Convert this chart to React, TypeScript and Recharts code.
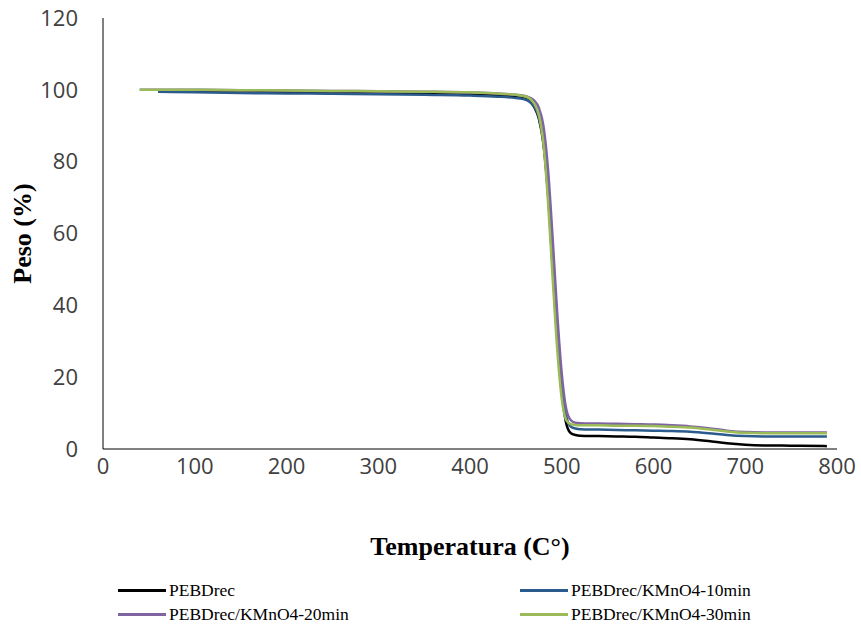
import React from 'react';
import { LineChart, Line, XAxis, YAxis } from 'recharts';

// Temperatura (°C) de cada lectura
const temperaturas = [
    40, 60, 100, 150, 200, 250, 300, 350, 400, 430, 450, 460, 465, 470, 475, 480, 485, 490,
    495, 500, 505, 510, 515, 520, 540, 560, 580, 600, 620, 640, 660, 680, 700, 720, 740, 760, 789,
];

// Peso (%) para cada muestra
const pebdRec = [
    null, 99.8, 99.6, 99.4, 99.3, 99.1, 99.0, 98.9, 98.7, 98.4, 98.0, 97.5, 96.8, 95.2, 92, 85, 71, 51,
    31, 16, 7, 4.4, 3.9, 3.7, 3.6, 3.5, 3.4, 3.2, 3.0, 2.7, 2.2, 1.6, 1.2, 1.0, 0.95, 0.9, 0.8,
];
const kmno4_10 = [
    null, 99.5, 99.3, 99.1, 99.0, 98.9, 98.8, 98.6, 98.4, 98.1, 97.7, 97.3, 96.7, 95.3, 92.5, 86, 72, 53,
    33, 18, 9, 6.2, 5.7, 5.5, 5.4, 5.3, 5.2, 5.1, 5.0, 4.8, 4.4, 3.9, 3.6, 3.5, 3.5, 3.5, 3.5,
];
const kmno4_20 = [
    100, 100, 100, 99.9, 99.8, 99.7, 99.6, 99.5, 99.3, 99.0, 98.6, 98.3, 97.8, 97.0, 95, 90, 78, 59,
    38, 21, 11, 8, 7.3, 7.2, 7.1, 7.0, 6.9, 6.8, 6.6, 6.3, 5.8, 5.1, 4.7, 4.6, 4.6, 4.6, 4.6,
];
const kmno4_30 = [
    100, 100, 100, 99.9, 99.8, 99.7, 99.6, 99.5, 99.3, 99.0, 98.6, 98.2, 97.6, 96.2, 93, 85, 69, 48,
    28, 14, 8, 6.9, 6.7, 6.6, 6.6, 6.5, 6.5, 6.4, 6.2, 6.0, 5.5, 4.9, 4.5, 4.4, 4.4, 4.4, 4.4,
];

const series = [
    { key: 'a', name: 'PEBDrec', color: '#000000', values: pebdRec },
    { key: 'b', name: 'PEBDrec/KMnO4-10min', color: '#2B5A8C', values: kmno4_10 },
    { key: 'c', name: 'PEBDrec/KMnO4-20min', color: '#8064A2', values: kmno4_20 },
    { key: 'd', name: 'PEBDrec/KMnO4-30min', color: '#9BBB59', values: kmno4_30 },
];

const xTicks = [0, 100, 200, 300, 400, 500, 600, 700, 800];
const yTicks = [0, 20, 40, 60, 80, 100, 120];

const data = temperaturas.map((t, i) => {
    const row: Record<string, number | null> = { t };
    series.forEach((s) => (row[s.key] = s.values[i]));
    return row;
});

const tickStyle = { fontFamily: '"Open Sans", sans-serif', fontSize: 22, fill: '#404040' };
const titleStyle = { fontFamily: '"Liberation Serif", serif', fontSize: 26, fontWeight: 'bold', fill: '#000' };

export default function App() {
    return (
        <div style={{ position: 'absolute', left: 0, top: 0, width: 861, height: 630, background: '#fff' }}>
            <LineChart width={861} height={630} data={data} margin={{ top: 18, right: 24, left: 0, bottom: 71 }}>
                <XAxis
                    dataKey="t"
                    type="number"
                    domain={[0, 800]}
                    ticks={xTicks}
                    tickLine={false}
                    tickSize={0}
                    tickMargin={9}
                    height={110}
                    stroke="#000"
                    tick={tickStyle}
                    label={{ value: 'Temperatura (C°)', position: 'insideBottom', offset: 4, style: titleStyle }}
                />
                <YAxis
                    type="number"
                    domain={[0, 120]}
                    ticks={yTicks}
                    tickLine={false}
                    tickSize={0}
                    tickMargin={25}
                    width={103}
                    stroke="#000"
                    tick={tickStyle}
                    label={{
                        value: 'Peso (%)',
                        angle: -90,
                        position: 'insideLeft',
                        offset: 22,
                        style: { ...titleStyle, textAnchor: 'middle' },
                    }}
                />
                {series.map((s) => (
                    <Line
                        key={s.key}
                        type="monotone"
                        dataKey={s.key}
                        name={s.name}
                        stroke={s.color}
                        strokeWidth={2.5}
                        dot={false}
                        isAnimationActive={false}
                    />
                ))}
            </LineChart>
            {/* leyenda 2x2 */}
            {series.map((s, i) => (
                <div
                    key={s.key}
                    style={{
                        position: 'absolute',
                        left: i % 2 === 0 ? 118 : 520,
                        top: i < 2 ? 580 : 604,
                        display: 'flex',
                        alignItems: 'center',
                        fontFamily: '"Liberation Serif", serif',
                        fontSize: 17.5,
                        color: '#000',
                        whiteSpace: 'nowrap',
                    }}
                >
                    <span style={{ display: 'inline-block', width: 48, height: 3, background: s.color, marginRight: 3 }} />
                    {s.name}
                </div>
            ))}
        </div>
    );
}
